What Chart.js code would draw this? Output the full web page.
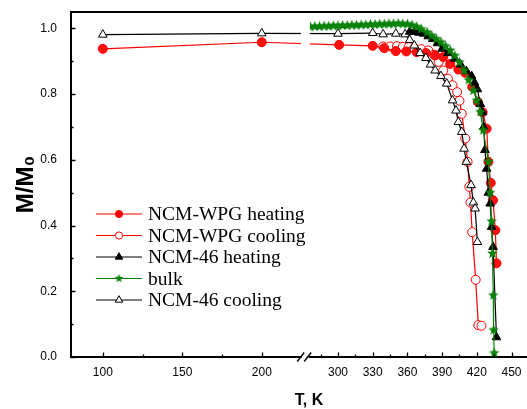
<!DOCTYPE html>
<html><head><meta charset="utf-8">
<script src="https://cdn.jsdelivr.net/npm/chart.js@4/dist/chart.umd.min.js"></script>
<style>html,body{margin:0;padding:0;background:#fff;}canvas{display:block;}</style>
</head><body>
<canvas id="c" width="527" height="409"></canvas>
<script>
// ---- tick labels ----
const xTickValues = [100,150,200,300,330,360,390,420,450];
const xTickLabels = ['100','150','200','300','330','360','390','420','450'];
const xMinorTicks = [125,175,285,315,345,375,405,435];
const yTickValues = [0,0.2,0.4,0.6,0.8,1.0];
const yMinorTicks = [0.1,0.3,0.5,0.7,0.9];
const xTitle = 'T, K';
const yTitle = 'M/M₀';

// ---- series (T in K, normalized value) ----
const seriesNames = ['NCM-WPG heating','NCM-WPG cooling','NCM-46 heating','bulk','NCM-46 cooling'];

const wpgHeatT = [100,200,301,330,340,350,359,368,376,384,391,397,404,410,416,421,425,428.5,430,432,434,436,437];
const wpgHeatV = [0.938,0.958,0.950,0.947,0.940,0.931,0.930,0.928,0.925,0.918,0.913,0.892,0.875,0.865,0.822,0.776,0.745,0.695,0.594,0.53,0.477,0.386,0.285];

const wpgCoolT = [339,345,351,356,361,366,372,378,383,387,391,395,399,403,405,407,410,412,413.5,414.5,416,419,421.3,424];
const wpgCoolV = [0.945,0.945,0.946,0.944,0.943,0.940,0.937,0.933,0.920,0.898,0.872,0.847,0.827,0.806,0.780,0.740,0.665,0.594,0.518,0.470,0.380,0.235,0.097,0.095];

const n46HeatT = [362,366,370,374,378,382,386,390,395,401,406,411,415.5,418,420.5,423,425,426,427,428.5,430,431.5,432.8,434,437];
const n46HeatV = [0.990,0.990,0.987,0.984,0.976,0.968,0.955,0.938,0.925,0.908,0.890,0.870,0.855,0.835,0.815,0.770,0.745,0.700,0.630,0.573,0.500,0.467,0.396,0.335,0.060];

const bulkT = [276,280,284,288,292,296,300,304,308,312,316,320,324,328,332,336,340,344,348,352,356,360,364,368,372,377,381,385,389,393,397,401,405,409,413,417,420,423,425.5,430,431.5,432.8,433.5,434.2,434.5,435];
const bulkV = [1.005,1.006,1.006,1.007,1.007,1.008,1.008,1.009,1.009,1.010,1.010,1.011,1.011,1.012,1.012,1.013,1.013,1.014,1.014,1.015,1.014,1.013,1.010,1.005,0.998,0.988,0.978,0.968,0.958,0.946,0.933,0.917,0.897,0.872,0.843,0.811,0.781,0.746,0.690,0.595,0.500,0.413,0.315,0.188,0.082,0.012];

const n46CoolT = [100,200,300,330,339,350,358,362,366,371,376,380,384,389,394,399,402,404,407,409,411,415,417,418.5,420.5];
const n46CoolV = [0.981,0.985,0.984,0.986,0.982,0.984,0.982,0.965,0.948,0.925,0.910,0.890,0.872,0.855,0.832,0.781,0.750,0.715,0.685,0.634,0.594,0.523,0.470,0.452,0.350];

// ---- broken x axis mapping (left: 80..227 K, right: ~272..465 K) ----
function toAxis(T){ return T <= 250 ? T : 247.92 + (T - 300) * 0.7277; }
const X_MIN = 80, X_MAX = 366.8;
const GAP_FROM = 224.6, GAP_TO = 230.2, BREAK_AT = 227.3;

function pts(ts, vs){ return ts.map((t,i)=>({x: toAxis(t), y: vs[i]})); }

// star marker
function makeStar(r, color){
  const c = document.createElement('canvas');
  const s = Math.ceil(r*2+2); c.width = s; c.height = s;
  const g = c.getContext('2d');
  g.fillStyle = color; g.beginPath();
  for(let i=0;i<10;i++){
    const rr = i%2===0 ? r : r*0.45;
    const a = -Math.PI/2 + i*Math.PI/5;
    const px = s/2 + rr*Math.cos(a), py = s/2 + rr*Math.sin(a);
    if(i===0) g.moveTo(px,py); else g.lineTo(px,py);
  }
  g.closePath(); g.fill();
  return c;
}
const GREEN = '#0a820a';
const starImg = makeStar(5.5, GREEN);
const starImgSmall = makeStar(4.5, GREEN);

const datasets = [
  {label: seriesNames[0], data: pts(wpgHeatT, wpgHeatV), borderColor:'#ff0000', backgroundColor:'#ff0000',
   pointStyle:'circle', pointRadius:4.5, pointBorderColor:'#ff0000', pointBackgroundColor:'#ff1010', order:4},
  {label: seriesNames[1], data: pts(wpgCoolT, wpgCoolV), borderColor:'#ff0000', backgroundColor:'#ffffff',
   pointStyle:'circle', pointRadius:4.5, pointBorderColor:'#ff0000', pointBackgroundColor:'#ffffff', order:5},
  {label: seriesNames[2], data: pts(n46HeatT, n46HeatV), borderColor:'#000000', backgroundColor:'#000000',
   pointStyle:'triangle', pointRadius:5, pointBorderColor:'#000000', pointBackgroundColor:'#000000', order:2},
  {label: seriesNames[3], data: pts(bulkT, bulkV), borderColor:GREEN, backgroundColor:GREEN,
   pointStyle:starImg, pointRadius:5, order:1},
  {label: seriesNames[4], data: pts(n46CoolT, n46CoolV), borderColor:'#000000', backgroundColor:'#ffffff',
   pointStyle:'triangle', pointRadius:5, pointBorderColor:'#000000', pointBackgroundColor:'#ffffff', order:3}
];
datasets.forEach(d=>{ d.borderWidth = 1.2; d.pointBorderWidth = 1; d.tension = 0; d.fill = false; d.showLine = true; });

const legendMarkers = [
  {style:'circle', fill:'#ff0000', stroke:'#ff0000', line:'#ff0000'},
  {style:'circle', fill:'#ffffff', stroke:'#ff0000', line:'#ff0000'},
  {style:'triangle', fill:'#000000', stroke:'#000000', line:'#000000'},
  {style:'star', fill:GREEN, stroke:GREEN, line:GREEN},
  {style:'triangle', fill:'#ffffff', stroke:'#000000', line:'#000000'}
];

const decor = {
  id:'decor',
  afterDatasetsDraw(chart){
    const {ctx, chartArea:a, scales:{x}} = chart;
    const g1 = x.getPixelForValue(GAP_FROM), g2 = x.getPixelForValue(GAP_TO);
    ctx.save(); ctx.fillStyle = '#fff';
    ctx.fillRect(g1, a.top + 2, g2 - g1, a.bottom - a.top - 4);
    ctx.restore();
  },
  afterDraw(chart){
    const {ctx, chartArea:a, scales:{x,y}} = chart;
    ctx.save();
    ctx.strokeStyle = '#000'; ctx.lineWidth = 1.3;
    ctx.beginPath();
    xTickValues.forEach(t=>{ const p = Math.round(x.getPixelForValue(toAxis(t)))+0.5; ctx.moveTo(p, a.bottom); ctx.lineTo(p, a.bottom-4.5); });
    xMinorTicks.forEach(t=>{ const p = Math.round(x.getPixelForValue(toAxis(t)))+0.5; ctx.moveTo(p, a.bottom); ctx.lineTo(p, a.bottom-2.5); });
    yTickValues.forEach(v=>{ const p = Math.round(y.getPixelForValue(v))+0.5; ctx.moveTo(a.left, p); ctx.lineTo(a.left+4.5, p); });
    yMinorTicks.forEach(v=>{ const p = Math.round(y.getPixelForValue(v))+0.5; ctx.moveTo(a.left, p); ctx.lineTo(a.left+2.5, p); });
    ctx.stroke();
    const bx = x.getPixelForValue(BREAK_AT);
    ctx.fillStyle = '#fff';
    ctx.fillRect(bx - 3.5, a.bottom - 2, 7, 4);
    ctx.lineWidth = 1.4;
    ctx.beginPath();
    ctx.moveTo(bx - 8, a.bottom + 4.5); ctx.lineTo(bx - 1, a.bottom - 4.5);
    ctx.moveTo(bx - 1, a.bottom + 4.5); ctx.lineTo(bx + 6, a.bottom - 4.5);
    ctx.stroke();
    // x axis title (centred under the broken axis as in the original)
    ctx.fillStyle = '#000';
    ctx.font = 'bold 16px "Liberation Sans", Arial, sans-serif';
    ctx.textAlign = 'center'; ctx.textBaseline = 'middle';
    ctx.fillText(xTitle, 309, 401);
    // legend
    const lx0 = 96, lx1 = 142, mx = 119, tx = 148, y0 = 214, dy = 21.5;
    ctx.font = '19.5px "Liberation Serif", "Times New Roman", serif';
    ctx.textBaseline = 'alphabetic'; ctx.textAlign = 'left';
    chart.data.datasets.forEach((d, i)=>{
      const m = legendMarkers[i];
      const ly = y0 + i*dy;
      ctx.strokeStyle = m.line; ctx.lineWidth = 1.2;
      ctx.beginPath(); ctx.moveTo(lx0, ly); ctx.lineTo(lx1, ly); ctx.stroke();
      ctx.fillStyle = m.fill; ctx.strokeStyle = m.stroke; ctx.lineWidth = 1;
      if (m.style === 'circle'){
        ctx.beginPath(); ctx.arc(mx, ly, 3.6, 0, Math.PI*2); ctx.fill(); ctx.stroke();
      } else if (m.style === 'triangle'){
        const r = 4.3; ctx.beginPath();
        for (let k=0;k<3;k++){ const ang = k*2*Math.PI/3; const px = mx + Math.sin(ang)*r, py = ly - Math.cos(ang)*r; if(k===0) ctx.moveTo(px,py); else ctx.lineTo(px,py); }
        ctx.closePath(); ctx.fill(); ctx.stroke();
      } else {
        ctx.drawImage(starImgSmall, mx - starImgSmall.width/2, ly - starImgSmall.height/2);
      }
      ctx.fillStyle = '#000';
      ctx.fillText(d.label, tx, ly + 6);
    });
    ctx.restore();
  }
};

new Chart(document.getElementById('c'), {
  type:'line',
  data:{ datasets },
  options:{
    responsive:false, animation:false, devicePixelRatio:1,
    layout:{ autoPadding:false, padding:{ top:12, right:0, left:0, bottom:0 } },
    plugins:{ legend:{ display:false }, tooltip:{ enabled:false } },
    scales:{
      x:{
        type:'linear', position:'bottom', min:X_MIN, max:X_MAX,
        afterBuildTicks(s){ s.ticks = xTickValues.map(t=>({value: toAxis(t)})); },
        afterFit(s){ s.height = 52; s.paddingLeft = 0; s.paddingRight = 0; },
        ticks:{ autoSkip:false, maxRotation:0, padding:8, color:'#000',
          font:{ family:'"Liberation Sans", Arial, sans-serif', size:12 },
          callback:(v, i)=> xTickLabels[i] },
        grid:{ display:true, drawOnChartArea:false, drawTicks:false },
        border:{ display:true, color:'#000', width:2 },
        title:{ display:false }
      },
      xTop:{
        type:'linear', position:'top', min:X_MIN, max:X_MAX,
        afterFit(s){ s.height = 0; s.paddingLeft = 0; s.paddingRight = 0; },
        ticks:{ display:false }, grid:{ display:true, drawOnChartArea:false, drawTicks:false },
        border:{ display:true, color:'#000', width:2 }
      },
      y:{
        type:'linear', position:'left', min:0, max:1.05,
        afterBuildTicks(s){ s.ticks = yTickValues.map(v=>({value:v})); },
        afterFit(s){ s.width = 71; s.paddingTop = 0; s.paddingBottom = 0; },
        ticks:{ padding:14, color:'#000',
          font:{ family:'"Liberation Sans", Arial, sans-serif', size:12 },
          callback:(v)=> Number(v).toFixed(1) },
        grid:{ display:true, drawOnChartArea:false, drawTicks:false },
        border:{ display:true, color:'#000', width:2 },
        title:{ display:true, text:yTitle, color:'#000', padding:{top:12,bottom:0},
          font:{ family:'"Liberation Sans", Arial, sans-serif', size:24, weight:'bold' } }
      }
    }
  },
  plugins:[decor]
});
</script>
</body></html>
